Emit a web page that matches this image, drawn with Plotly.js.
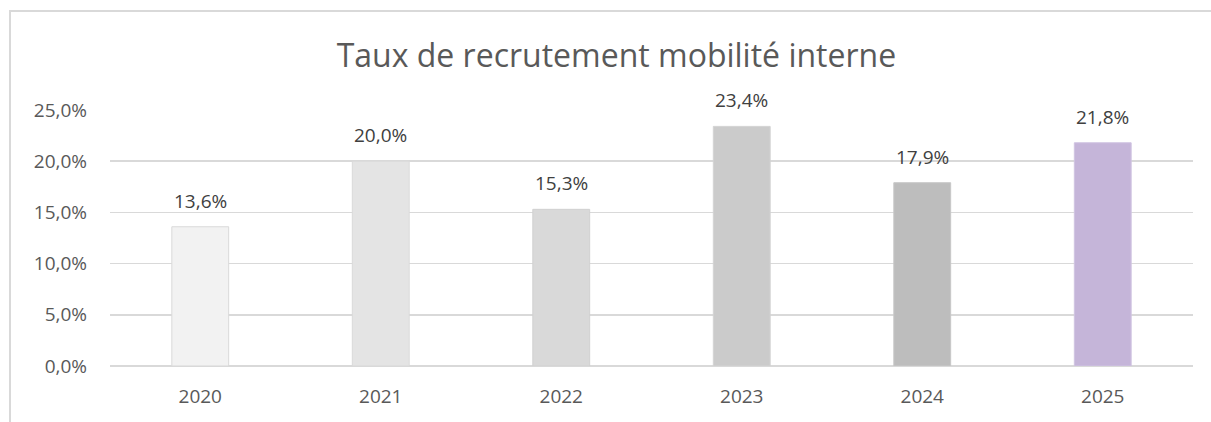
<!DOCTYPE html>
<html>
<head>
<meta charset="utf-8">
<script src="https://cdn.plot.ly/plotly-3.0.1.min.js"></script>
<style>
  html, body { margin: 0; padding: 0; background: #ffffff; }
  #wrap { position: relative; width: 1211px; height: 422px; overflow: hidden; }
  #frame { position: absolute; left: 9px; top: 10px; width: 1400px; height: 600px;
           border: 2px solid #d9d9d9; box-sizing: border-box; }
  #chart { position: absolute; left: 0; top: 0; width: 1211px; height: 422px; }
</style>
</head>
<body>
<div id="wrap">
  <div id="frame"></div>
  <div id="chart"></div>
</div>
<script>
const years = ['2020', '2021', '2022', '2023', '2024', '2025'];
const rates = [0.136, 0.200, 0.153, 0.234, 0.179, 0.218];
const barColors = ['#f2f2f2', '#e4e4e4', '#d9d9d9', '#cbcbcb', '#bdbdbd', '#c5b5d9'];
const barEdges = ['#d9d9d9', '#d9d9d9', '#d0d0d0', '#d3d3d3', '#c8c8c8', '#d0c4e2'];
const yTicks = [0, 0.05, 0.10, 0.15, 0.20, 0.25];

const FONT = 'Open Sans, sans-serif';
const fmtPct = v => (v * 100).toFixed(1).replace('.', ',') + '%';

const trace = {
  type: 'bar',
  x: years,
  y: rates,
  marker: { color: barColors, line: { color: barEdges, width: 1 } },
  hoverinfo: 'skip'
};

const annotations = years.map((yr, i) => ({
  x: i,
  y: rates[i],
  xref: 'x',
  yref: 'y',
  text: fmtPct(rates[i]),
  showarrow: false,
  xanchor: 'center',
  yanchor: 'bottom',
  yshift: 11,
  font: { family: FONT, size: 19, color: '#404040' }
}));

const layout = {
  width: 1211,
  height: 422,
  margin: { l: 110, r: 18, t: 110, b: 56 },
  paper_bgcolor: 'rgba(0,0,0,0)',
  plot_bgcolor: 'rgba(0,0,0,0)',
  separators: ',.',
  showlegend: false,
  bargap: 0.685,
  annotations: annotations,
  title: {
    text: 'Taux de recrutement mobilité interne',
    font: { family: FONT, size: 32, color: '#595959' },
    xref: 'container', x: 0.509, xanchor: 'center',
    yref: 'container', y: 0.868, yanchor: 'middle'
  },
  xaxis: {
    type: 'category',
    range: [-0.5, years.length - 0.5],
    autorange: false,
    showgrid: false,
    showline: false,
    zeroline: false,
    ticks: '',
    ticklabelstandoff: 17,
    tickfont: { family: FONT, size: 19, color: '#595959' }
  },
  yaxis: {
    range: [0, 0.25],
    tickvals: yTicks,
    tickformat: '.1%',
    showgrid: true,
    gridcolor: '#d9d9d9',
    gridwidth: 1.5,
    zeroline: true,
    zerolinecolor: '#d9d9d9',
    zerolinewidth: 1.5,
    showline: false,
    ticks: '',
    ticklabelstandoff: 22,
    tickfont: { family: FONT, size: 19, color: '#595959' }
  }
};

Plotly.newPlot('chart', [trace], layout, { displayModeBar: false, staticPlot: true });
</script>
</body>
</html>
